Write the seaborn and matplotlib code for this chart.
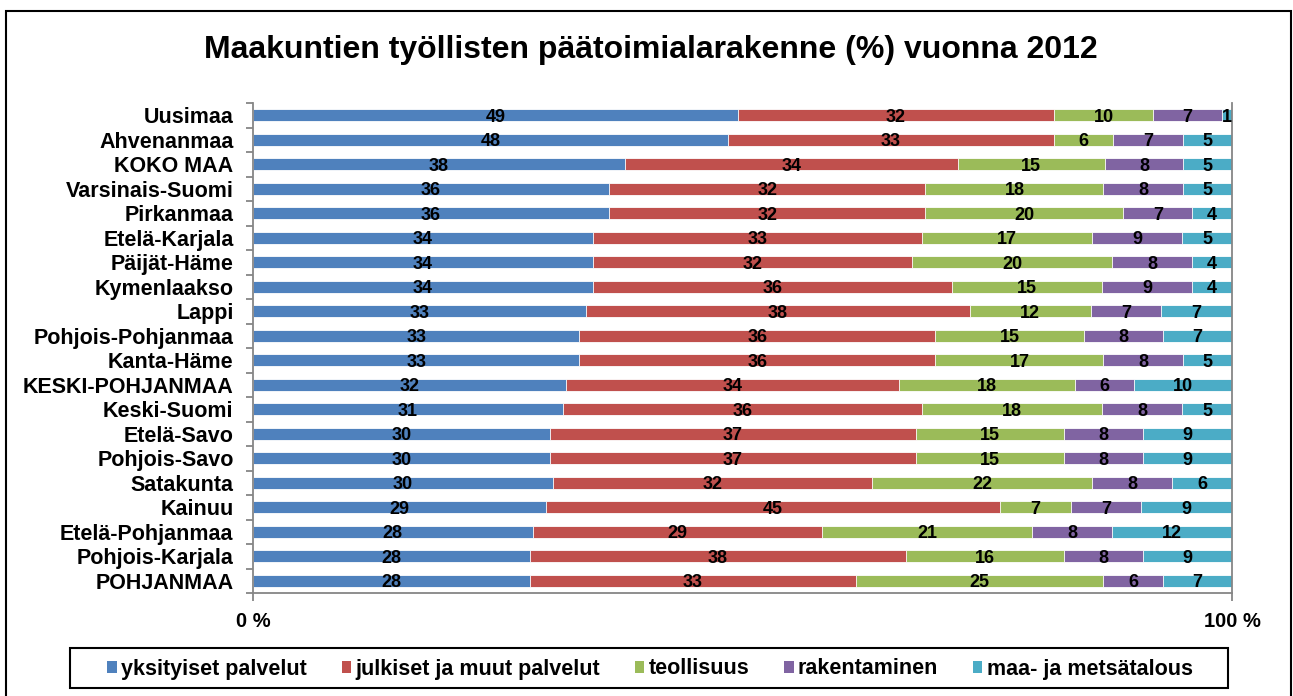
import numpy as np
import pandas as pd
import matplotlib
matplotlib.use("Agg")
import matplotlib.pyplot as plt
import seaborn as sns
from matplotlib.patches import Patch, Rectangle
from matplotlib.ticker import FixedLocator

# Regions, top to bottom
regions = [
    "Uusimaa", "Ahvenanmaa", "KOKO MAA", "Varsinais-Suomi", "Pirkanmaa",
    "Etelä-Karjala", "Päijät-Häme", "Kymenlaakso", "Lappi", "Pohjois-Pohjanmaa",
    "Kanta-Häme", "KESKI-POHJANMAA", "Keski-Suomi", "Etelä-Savo", "Pohjois-Savo",
    "Satakunta", "Kainuu", "Etelä-Pohjanmaa", "Pohjois-Karjala", "POHJANMAA",
]

# Share of employed persons by main industry (%)
yksityiset = [49, 48, 38, 36, 36, 34, 34, 34, 33, 33, 33, 32, 31, 30, 30, 30, 29, 28, 28, 28]
julkiset = [32, 33, 34, 32, 32, 33, 32, 36, 38, 36, 36, 34, 36, 37, 37, 32, 45, 29, 38, 33]
teollisuus = [10, 6, 15, 18, 20, 17, 20, 15, 12, 15, 17, 18, 18, 15, 15, 22, 7, 21, 16, 25]
rakentaminen = [7, 7, 8, 8, 7, 9, 8, 9, 7, 8, 8, 6, 8, 8, 8, 8, 7, 8, 8, 6]
maa_metsa = [1, 5, 5, 5, 4, 5, 4, 4, 7, 7, 5, 10, 5, 9, 9, 6, 9, 12, 9, 7]

series_names = ["yksityiset palvelut", "julkiset ja muut palvelut", "teollisuus",
                "rakentaminen", "maa- ja metsätalous"]
series_colors = ["#4F81BD", "#C0504D", "#9BBB59", "#8064A2", "#4BACC6"]

df = pd.DataFrame(
    {n: v for n, v in zip(series_names, [yksityiset, julkiset, teollisuus, rakentaminen, maa_metsa])},
    index=regions,
)

# 100 % stacked: each row scaled to its own total
share = df.div(df.sum(axis=1), axis=0) * 100
cum = share.cumsum(axis=1)
start = cum - share

sns.set_theme(style="white")
plt.rcParams["font.family"] = ["Liberation Sans", "DejaVu Sans"]
for key in ["text.color", "axes.labelcolor", "xtick.labelcolor", "ytick.labelcolor"]:
    plt.rcParams[key] = "black"

W, H = 1293, 696
fig = plt.figure(figsize=(W / 100, H / 100), dpi=100)
ax = fig.add_axes([253 / W, 1 - 593 / H, (1232 - 253) / W, (593 - 103) / H])

# Draw the stack back to front so each segment shows only its own part
for name, color in reversed(list(zip(series_names, series_colors))):
    plot_df = pd.DataFrame({"region": regions, "end": cum[name].values})
    sns.barplot(data=plot_df, x="end", y="region", orient="h", color=color,
                width=0.47, edgecolor="white", linewidth=0.6, saturation=1,
                ax=ax)

# Value labels in the middle of each segment
label_font = dict(family=["Liberation Sans Narrow", "Liberation Sans"], weight="bold",
                  size=13, color="black")
for name in series_names:
    for i, region in enumerate(regions):
        xc = start.loc[region, name] + share.loc[region, name] / 2
        ax.text(xc, i, f"{df.loc[region, name]}", ha="center", va="center_baseline",
                **label_font)

ax.set_xlim(0, 100)
ax.set_ylim(len(regions) - 0.5, -0.5)
ax.set_xlabel("")
ax.set_ylabel("")

axis_gray = "#868686"
for side in ["left", "bottom", "right"]:
    ax.spines[side].set_visible(True)
    ax.spines[side].set_color(axis_gray)
    ax.spines[side].set_linewidth(1.3)
ax.spines["top"].set_visible(False)

ax.set_xticks([0, 100])
ax.set_xticklabels(["0 %", "100 %"], fontsize=14.5, fontweight="bold")
ax.tick_params(axis="x", direction="out", length=6, width=1.3, color=axis_gray,
               pad=8, bottom=True)

ax.set_yticks(range(len(regions)))
ax.set_yticklabels(regions, fontsize=15.5, fontweight="bold")
ax.tick_params(axis="y", which="major", length=0, pad=14, left=True)
ax.yaxis.set_minor_locator(FixedLocator(np.arange(-0.5, len(regions), 1.0)))
ax.tick_params(axis="y", which="minor", direction="out", length=5, width=1.3,
               color=axis_gray, left=True)
ax.grid(False)

fig.text(651 / W, 1 - 50 / H, "Maakuntien työllisten päätoimialarakenne (%) vuonna 2012",
         ha="center", va="center", fontsize=23, fontweight="bold")

handles = [Patch(facecolor=c, edgecolor="none", label=n) for n, c in zip(series_names, series_colors)]
leg = fig.legend(handles=handles, loc="center", bbox_to_anchor=(650 / W, 1 - 669 / H),
                 ncol=5, frameon=False, prop=dict(weight="bold", size=15.5),
                 handlelength=0.45, handleheight=0.45, handletextpad=0.2,
                 columnspacing=1.6, borderpad=0.3)

# Legend frame
fig.patches.append(Rectangle((70 / W, 1 - 688 / H), (1228 - 70) / W, 40 / H,
                             transform=fig.transFigure, fill=False,
                             edgecolor="black", linewidth=1.5))

# Outer chart border
fig.patches.append(Rectangle((6 / W, -0.02), 1285 / W, 1 - 11 / H + 0.02,
                             transform=fig.transFigure, fill=False,
                             edgecolor="black", linewidth=1.5))

fig.savefig("out.png", dpi=100)
